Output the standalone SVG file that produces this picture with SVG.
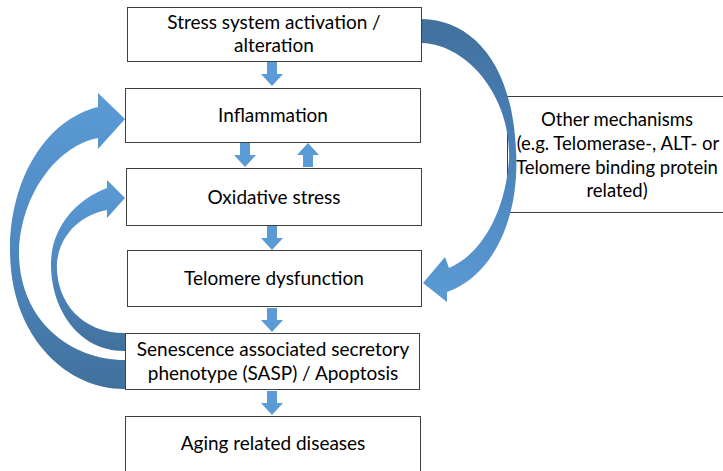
<svg xmlns="http://www.w3.org/2000/svg" width="723" height="471" viewBox="0 0 723 471">
<defs>
<style>
.box{fill:#fff;stroke:#404040;stroke-width:1}
.t{font-family:Lato,"Liberation Sans",sans-serif;font-size:19px;fill:#000;text-anchor:middle}
.o{font-size:18.5px}
.sa{fill:#5B9BD5}
</style>
<linearGradient id="gr" x1="0" y1="0" x2="0" y2="1">
<stop offset="0" stop-color="#41719C"/><stop offset="0.45" stop-color="#4A80B8"/><stop offset="1" stop-color="#5B9BD5"/>
</linearGradient>
<linearGradient id="gl" x1="0" y1="0" x2="0" y2="1">
<stop offset="0" stop-color="#5B9BD5"/><stop offset="0.5" stop-color="#4F89C2"/><stop offset="1" stop-color="#41719C"/>
</linearGradient>
<path id="dn" d="M-5,0 H5 V12 H11 L0,24 L-11,12 H-5 Z"/>
</defs>
<rect width="723" height="471" fill="#fff"/>
<g id="other"><rect class="box" x="507.5" y="96.5" width="230" height="116"/>
<text class="t o" x="617" y="126">Other mechanisms</text>
<text class="t o" x="618" y="150">(e.g. Telomerase-, ALT- or</text>
<text class="t o" x="617" y="174">Telomere binding protein</text>
<text class="t o" x="617" y="197">related)</text></g>
<g id="stress"><rect class="box" x="127.5" y="7.5" width="294" height="54"/>
<text class="t" x="274" y="29">Stress system activation /</text>
<text class="t" x="274" y="52">alteration</text></g>
<g id="inflammation"><rect class="box" x="125.5" y="88.5" width="295" height="54"/>
<text class="t" x="273" y="122">Inflammation</text></g>
<g id="oxidative"><rect class="box" x="126.5" y="168.5" width="295" height="57"/>
<text class="t" x="274" y="204">Oxidative stress</text></g>
<g id="telomere"><rect class="box" x="127.5" y="250.5" width="294" height="56"/>
<text class="t" x="274" y="285">Telomere dysfunction</text></g>
<g id="sasp"><rect class="box" x="125.5" y="333.5" width="294" height="56"/>
<text class="t" x="273" y="356">Senescence associated secretory</text>
<text class="t" x="273" y="380">phenotype (SASP) / Apoptosis</text></g>
<g id="aging"><rect class="box" x="125.5" y="416.5" width="295" height="70"/>
<text class="t" x="273" y="450">Aging related diseases</text></g>
<g id="connectors">
<use href="#dn" class="sa" x="272" y="62"/>
<use href="#dn" class="sa" x="245" y="143"/>
<use href="#dn" class="sa" transform="translate(308,167) scale(1,-1)"/>
<use href="#dn" class="sa" x="272" y="226"/>
<use href="#dn" class="sa" x="272" y="308"/>
<use href="#dn" class="sa" x="272" y="391"/>
<path fill="url(#gr)" d="M422,19 C470,20 512,60 516,150 C520,215 495,275 447,292 L447,302 L423,283 L445,257 L449,268 C480,255 505,215 509,160 C512,100 470,45 422,43 Z"/>
<path fill="url(#gl)" d="M125,389 C70,390 10,340 10,250 C10,180 45,120 98,107 L98,93 L125,119 L98,149 L98,138 C60,145 22,190 19,250 C18,320 70,360 125,360 Z"/>
<path fill="url(#gl)" d="M125,351 C80,352 50,310 51,262 C52,228 75,200 107,188 L107,180 L125,198 L107,218 L107,210 C80,215 60,235 57,262 C55,300 80,333 125,333 Z"/>
</g>
</svg>
